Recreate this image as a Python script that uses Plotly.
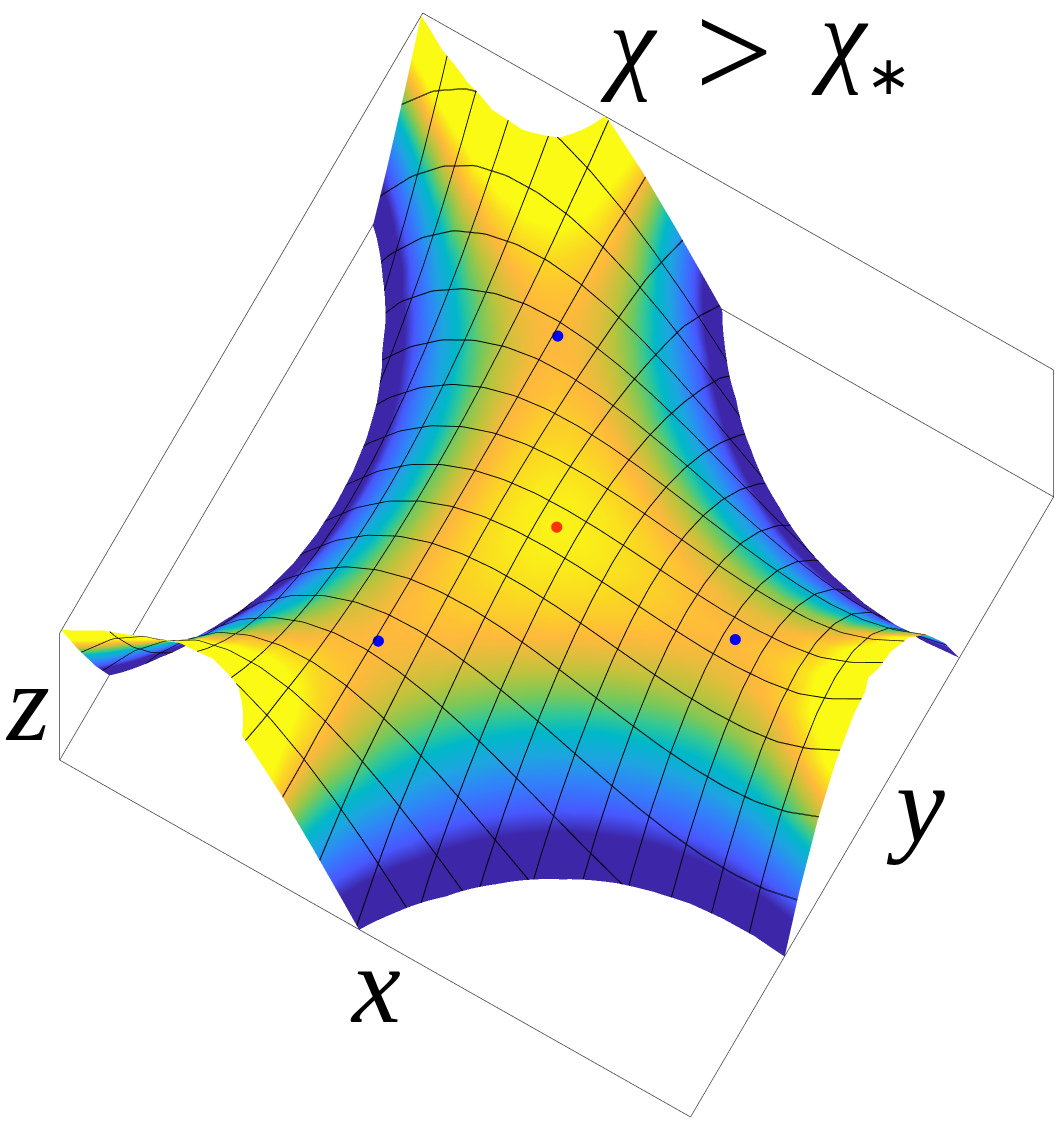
import plotly.graph_objects as go

# grid positions
x_vals = [0.00,0.05,0.10,0.15,0.20,0.25,0.30,0.35,0.40,0.45,0.50,0.55,0.60,0.65,0.70,0.75,0.80,0.85,0.90,0.95,1.00]
y_vals = x_vals
# height read per x column, from y=0.5 out to y=0 (surface is mirror-symmetric about y=0.5)
z_half = [
 [-1.148,-1.124,-1.075,-.99,-.85,-.65,-.40,-.09,.25,.63,1.04],
 [-.693,-.673,-.614,-.514,-.374,-.24,-.02,.235,.53,.87,1.25],
 [-.314,-.297,-.247,-.163,-.046,.105,.27,.485,.735,1.02,1.34],
 [-.003,.010,.051,.119,.214,.336,.485,.661,.865,1.095,1.353],
 [.246,.256,.287,.339,.412,.505,.619,.754,.910,1.086,1.283],
 [.438,.446,.467,.503,.553,.618,.697,.791,.898,1.021,1.157],
 [.582,.586,.598,.618,.646,.682,.726,.778,.838,.89,.96],
 [.683,.683,.686,.690,.696,.703,.712,.722,.735,.72,.72],
 [.747,.744,.737,.725,.709,.687,.661,.630,.595,.52,.44],
 [.780,.775,.758,.730,.691,.641,.580,.508,.424,.295,.145],
 [.790,.781,.755,.711,.650,.571,.475,.361,.230,.045,-.155],
 [.782,.770,.735,.675,.591,.484,.353,.197,.018,-.22,-.46],
 [.764,.748,.703,.627,.522,.385,.219,.022,-.205,-.49,-.78],
 [.740,.722,.667,.575,.447,.282,.081,-.157,-.432,-.743,-1.091],
 [.718,.697,.632,.525,.374,.181,-.056,-.336,-.658,-1.024,-1.432],
 [.704,.679,.605,.482,.309,.087,-.185,-.506,-.876,-1.296,-1.765],
 [.705,.677,.593,.454,.259,.008,-.299,-.661,-1.080,-1.553,-2.083],
 [.726,.695,.601,.446,.229,-.051,-.393,-.796,-1.262,-1.790,-2.381],
 [.774,.740,.637,.466,.226,-.082,-.459,-.904,-1.418,-2.000,-2.651],
 [.876,.838,.72,.525,.25,-.095,-.51,-.979,-1.540,-2.177,-2.888],
 [1.02,.975,.845,.625,.315,-.075,-.54,-1.013,-1.623,-2.313,-3.085],
]
# full column: y 0..0.5 then mirrored 0.55..1
z_cols = [c[::-1] + c[1:] for c in z_half]
z_rows = [[z_cols[i][j] for i in range(len(x_vals))] for j in range(len(y_vals))]

# critical points
saddle_x = [0.36, 0.359, 0.783]
saddle_y = [0.746, 0.2535, 0.50]
saddle_z = [0.71, 0.71, 0.71]
centre_x = [0.5]
centre_y = [0.5]
centre_z = [0.80]

box_lo, box_hi = 0.0, 1.0
parula_like = [
 [0.00,"rgb(61,38,168)"],[0.03,"rgb(61,38,168)"],[0.15,"rgb(72,88,255)"],[0.30,"rgb(50,130,250)"],
 [0.42,"rgb(30,165,225)"],[0.53,"rgb(0,185,200)"],[0.60,"rgb(50,200,150)"],[0.67,"rgb(120,200,90)"],
 [0.75,"rgb(190,195,60)"],[0.846,"rgb(255,185,60)"],[0.92,"rgb(250,215,35)"],[1.00,"rgb(250,250,20)"],
]
mesh_step = 1/17
mesh_thicken = 0.0006

fig = go.Figure()
def mesh(offset):
    return dict(
        x=dict(show=True, start=mesh_step+offset, end=1-mesh_step/2+offset, size=mesh_step, color="black", width=2, highlight=False),
        y=dict(show=True, start=mesh_step+offset, end=1-mesh_step/2+offset, size=mesh_step, color="black", width=2, highlight=False),
        z=dict(show=False, highlight=False),
    )
flat = dict(ambient=1, diffuse=0, specular=0, roughness=1, fresnel=0)
fig.add_trace(go.Surface(
    x=x_vals, y=y_vals, z=z_rows, colorscale=parula_like, cmin=0.15, cmax=0.80, showscale=False,
    lighting=flat, contours=mesh(0), hoverinfo="skip",
))
fig.add_trace(go.Surface(
    x=x_vals, y=y_vals, z=z_rows, colorscale=parula_like, cmin=0.15, cmax=0.80, showscale=False,
    lighting=flat, contours=mesh(mesh_thicken), hidesurface=True, hoverinfo="skip",
))

# box edges
L, H = box_lo, box_hi
edges = [
 ((L,L,H),(L,H,H)), ((L,H,H),(H,H,H)), ((H,H,H),(H,H,L)), ((H,H,L),(H,L,L)),
 ((H,L,L),(L,L,L)), ((L,L,L),(L,H,L)), ((L,H,L),(H,H,L)), ((L,L,L),(L,L,H)),
]
ex, ey, ez = [], [], []
for a, b in edges:
    ex += [a[0], b[0], None]; ey += [a[1], b[1], None]; ez += [a[2], b[2], None]
fig.add_trace(go.Scatter3d(x=ex, y=ey, z=ez, mode="lines", line=dict(color="#444444", width=1.5), hoverinfo="skip", showlegend=False))

fig.add_trace(go.Scatter3d(x=saddle_x, y=saddle_y, z=saddle_z, mode="markers", marker=dict(color="#0000ff", size=6.5, line=dict(width=0)), hoverinfo="skip", showlegend=False))
fig.add_trace(go.Scatter3d(x=centre_x, y=centre_y, z=centre_z, mode="markers", marker=dict(color="#ff3300", size=6.5, line=dict(width=0)), hoverinfo="skip", showlegend=False))

ax = dict(range=[-0.003, 1.003], visible=False, autorange=False)
serif = "Liberation Serif"
def label(text, x, y, size=110):
    return dict(text=text, x=x/1060, y=1-y/1130, xref="paper", yref="paper", showarrow=False,
                font=dict(family=serif, size=size, color="black"), xanchor="center", yanchor="middle")
cx, cy = -0.0409, -0.0235
fig.update_layout(
    width=1060, height=1130, margin=dict(l=0, r=0, t=0, b=0), paper_bgcolor="white", showlegend=False,
    scene=dict(
        xaxis=ax, yaxis=ax, zaxis=ax, bgcolor="white",
        aspectmode="manual", aspectratio=dict(x=1.296, y=1.296, z=1.231),
        domain=dict(x=[0, 1], y=[0, 1]),
        camera=dict(projection=dict(type="orthographic"), up=dict(x=0, y=0, z=1), center=dict(x=cx, y=cy, z=0),
                    eye=dict(x=0.1413+cx, y=-0.2455+cy, z=1.517)),
    ),
    annotations=[
        label("<i>χ</i>", 629, 44, size=105),
        label("&gt;", 734, 51, size=138),
        label('<i>χ</i><sub><span style="font-size:54px">∗</span></sub>', 861, 42, size=105),
        label("<i>x</i>", 375, 985),
        label("<i>y</i>", 915, 805),
        label("<i>z</i>", 27, 703),
    ],
)
fig.write_html("out.html", post_script="document.body.style.margin='0';", config=dict(displayModeBar=False))
